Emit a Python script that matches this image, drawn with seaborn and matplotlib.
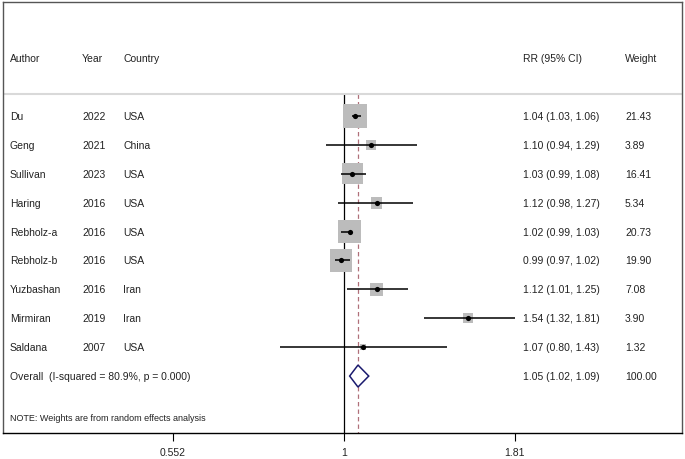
import numpy as np
import pandas as pd
import matplotlib
matplotlib.use("Agg")
import matplotlib.pyplot as plt
import seaborn as sns

# study data
authors = ["Du", "Geng", "Sullivan", "Haring", "Rebholz-a", "Rebholz-b",
           "Yuzbashan", "Mirmiran", "Saldana"]
years = ["2022", "2021", "2023", "2016", "2016", "2016", "2016", "2019", "2007"]
countries = ["USA", "China", "USA", "USA", "USA", "USA", "Iran", "Iran", "USA"]
rr = [1.04, 1.10, 1.03, 1.12, 1.02, 0.99, 1.12, 1.54, 1.07]
lower = [1.03, 0.94, 0.99, 0.98, 0.99, 0.97, 1.01, 1.32, 0.80]
upper = [1.06, 1.29, 1.08, 1.27, 1.03, 1.02, 1.25, 1.81, 1.43]
weights = [21.43, 3.89, 16.41, 5.34, 20.73, 19.90, 7.08, 3.90, 1.32]

overall_rr = 1.05
overall_lo = 1.02
overall_hi = 1.09
overall_label = "Overall  (I-squared = 80.9%, p = 0.000)"
note = "NOTE: Weights are from random effects analysis"
tick_vals = [0.552, 1, 1.81]
tick_labels = ["0.552", "1", "1.81"]

df = pd.DataFrame({"author": authors, "year": years, "country": countries,
                   "rr": rr, "lo": lower, "hi": upper, "weight": weights})
df["row"] = np.arange(len(df))
overall_row = len(df)

sns.set_style("white")
plt.rcParams["font.family"] = ["Liberation Sans", "DejaVu Sans"]
fs = 7.5
tc = "#222222"

fig = plt.figure(figsize=(6.85, 4.6), dpi=100)
ax = fig.add_axes([3 / 685, 26 / 460, 679 / 685, 431 / 460])
ax.set_xscale("log")
ax.set_xlim(np.exp(-1.184), np.exp(1.174))
ax.set_ylim(10.97, -3.94)

line_row = -0.76
# reference lines
ax.vlines(1, line_row, 10.97, color="black", lw=0.9, zorder=1)
ax.vlines(overall_rr, line_row, 10.97, color="#b0707a", lw=0.9,
          linestyles=(0, (3.5, 2.5)), zorder=1)
ax.axhline(line_row, color="#d9d9d9", lw=1.5, zorder=1)

# weight boxes (area proportional to weight)
sns.scatterplot(data=df, x="rr", y="row", size="weight",
                sizes=(13.5 * min(weights), 13.5 * max(weights)),
                marker="s", color="#bcbcbc", linewidth=0, legend=False,
                ax=ax, zorder=2)
ax.hlines(df["row"], df["lo"], df["hi"], color="black", lw=1.1, zorder=3)
sns.scatterplot(data=df, x="rr", y="row", marker="o", s=14, color="black",
                linewidth=0, legend=False, ax=ax, zorder=4)

# pooled diamond
h = 0.38
ax.fill([overall_lo, overall_rr, overall_hi, overall_rr, overall_lo],
        [overall_row, overall_row - h, overall_row, overall_row + h, overall_row],
        facecolor="white", edgecolor="#1a1a6e", lw=1.1, zorder=5)

# text columns
tr = ax.get_yaxis_transform()
def xa(px):
    return (px - 3) / 679

def put(px, row, txt, size=fs):
    ax.text(xa(px), row, txt, transform=tr, fontsize=size, va="center", color=tc)

head_row = -2
for px, txt in [(10, "Author"), (82, "Year"), (123, "Country"),
                (523, "RR (95% CI)"), (625, "Weight")]:
    put(px, head_row, txt)

for _, r in df.iterrows():
    put(10, r["row"], r["author"])
    put(82, r["row"], r["year"])
    put(123, r["row"], r["country"])
    put(523, r["row"], f"{r['rr']:.2f} ({r['lo']:.2f}, {r['hi']:.2f})")
    put(625, r["row"], f"{r['weight']:.2f}")

put(10, overall_row, overall_label)
put(523, overall_row, f"{overall_rr:.2f} ({overall_lo:.2f}, {overall_hi:.2f})")
put(625, overall_row, "100.00")
put(10, 10.45, note, size=fs * 0.87)

# axes styling
ax.set_yticks([])
ax.set_xticks(tick_vals)
ax.set_xticklabels(tick_labels)
ax.xaxis.set_minor_locator(matplotlib.ticker.NullLocator())
ax.tick_params(axis="x", direction="out", length=6, width=0.8, labelsize=fs,
               pad=4, bottom=True, color="black", labelcolor=tc)
ax.set_xlabel("")
ax.set_ylabel("")
for side in ["top", "left", "right"]:
    ax.spines[side].set_color("#555555")
    ax.spines[side].set_linewidth(1.0)
ax.spines["bottom"].set_color("black")
ax.spines["bottom"].set_linewidth(1.0)

fig.savefig("out.png", dpi=100)
